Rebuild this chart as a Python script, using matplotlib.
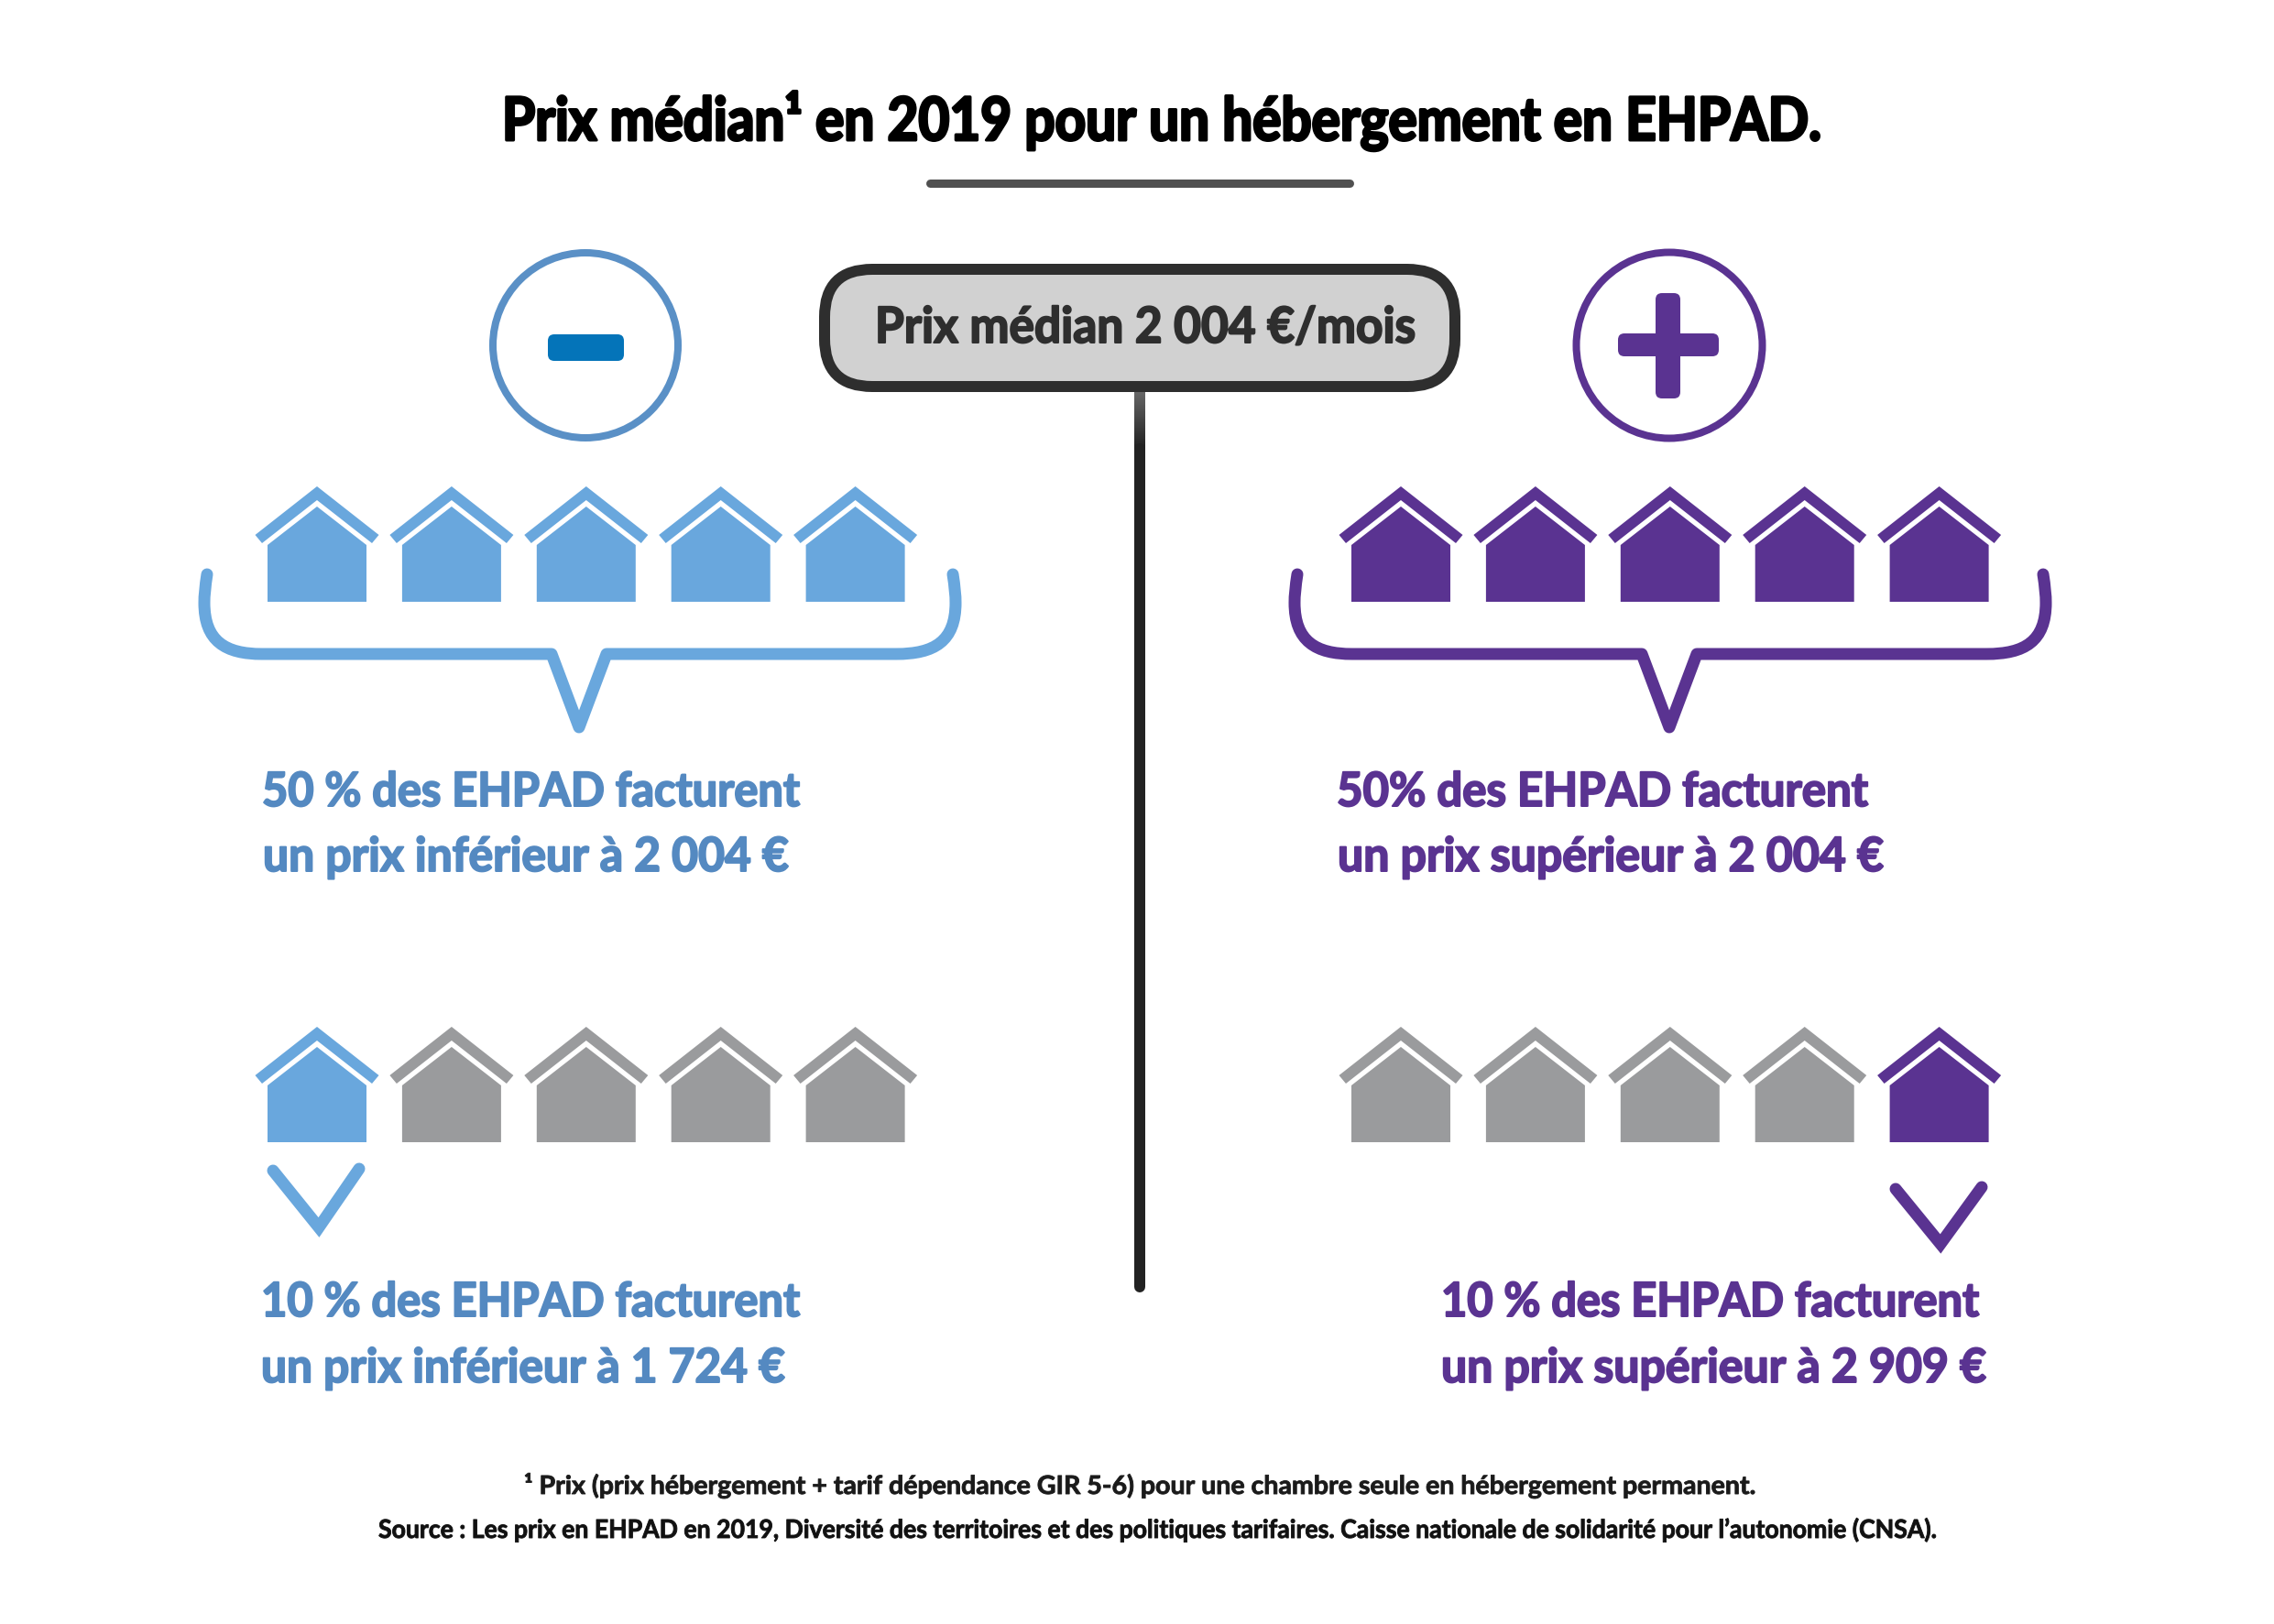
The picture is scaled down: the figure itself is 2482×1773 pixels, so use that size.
import matplotlib
matplotlib.use("Agg")
import matplotlib.pyplot as plt
from matplotlib.patches import Polygon, Circle, FancyBboxPatch, PathPatch
from matplotlib.patheffects import AbstractPathEffect
from matplotlib.path import Path
from matplotlib.transforms import Affine2D
import numpy as np

W, H = 2482, 1773
DPI = 100
FONT = ['Lato', 'Liberation Sans', 'DejaVu Sans']

BLUE = '#69A7DD'
BLUE_TXT = '#5489C1'
BLUE_RING = '#5A90C6'
BLUE_MINUS = '#0474B9'
PURPLE = '#5A3391'
GREY = '#9A9B9D'

title = "Prix médian¹ en 2019 pour un hébergement en EHPAD."
median_label = "Prix médian 2 004 €/mois"
top_left = ["50 % des EHPAD facturent", "un prix inférieur à 2 004 €"]
top_right = ["50% des EHPAD facturent", "un prix supérieur à 2 004 €"]
bot_left = ["10 % des EHPAD facturent", "un prix inférieur à 1 724 €"]
bot_right = ["10 % des EHPAD facturent", "un prix supérieur à 2 909 €"]
footnote = "¹ Prix (prix hébergement + tarif dépendance GIR 5-6) pour une chambre seule en hébergement permanent."
source = "Source : Les prix en EHPAD en 2019, Diversité des territoires et des politiques tarifaires. Caisse nationale de solidarité pour l’autonomie (CNSA)."

# which of the five houses are highlighted in each row
row_top_left = [1, 1, 1, 1, 1]
row_top_right = [1, 1, 1, 1, 1]
row_bot_left = [1, 0, 0, 0, 0]
row_bot_right = [0, 0, 0, 0, 1]

fig = plt.figure(figsize=(W / DPI, H / DPI), dpi=DPI)
ax = fig.add_axes([0, 0, 1, 1])
ax.set_xlim(0, W)
ax.set_ylim(H, 0)
ax.axis('off')
renderer = fig.canvas.get_renderer()


def pt(px):
    return px * 72 / DPI


class Condense(AbstractPathEffect):
    """Draw a text narrower around x0, with a small outline for the heavy weight."""

    def __init__(self, sx, x0, bold_px):
        super().__init__()
        self.sx, self.x0, self.bold_px = sx, x0, bold_px

    def draw_path(self, renderer, gc, tpath, affine, rgbFace=None):
        a = affine + Affine2D().translate(-self.x0, 0).scale(self.sx, 1).translate(self.x0, 0)
        gc0 = renderer.new_gc()
        gc0.copy_properties(gc)
        gc0.set_foreground(rgbFace)
        gc0.set_linewidth(pt(self.bold_px))
        gc0.set_joinstyle('round')
        renderer.draw_path(gc0, tpath, a, rgbFace)
        gc0.restore()


def label(x1, x2, y, s, color, size, bold_px=2.0, z=5):
    t = ax.text(x1, y, s, color=color, fontsize=size, family=FONT, weight='bold',
                ha='left', va='baseline', zorder=z)
    w = t.get_window_extent(renderer).width
    t.set_path_effects([Condense((x2 - x1) / w, x1, bold_px)])
    return t


def house(cx, top, color):
    body = [(cx - 54, top + 126), (cx + 54, top + 126), (cx + 54, top + 64),
            (cx, top + 22), (cx - 54, top + 64)]
    ax.add_patch(Polygon(body, closed=True, fc=color, ec='none'))
    roof = [(cx, top), (cx + 67.5, top + 53), (cx + 60, top + 62), (cx, top + 15),
            (cx - 60, top + 62), (cx - 67.5, top + 53)]
    ax.add_patch(Polygon(roof, closed=True, fc=color, ec='none'))


def row(x0, top, flags, color):
    for i, f in enumerate(flags):
        house(x0 + 146.9 * i, top, color if f else GREY)


def bracket(dx, color):
    v = [(226, 627), (224, 640), (223, 650), (223, 658),
         (223, 700), (246, 714), (286, 714),
         (602, 714), (632, 794), (662, 714), (978, 714),
         (1020, 714), (1043, 700), (1043, 658),
         (1043, 650), (1042, 640), (1040, 627)]
    v = [(a + dx, b) for a, b in v]
    c = [Path.MOVETO, Path.CURVE4, Path.CURVE4, Path.CURVE4,
         Path.CURVE4, Path.CURVE4, Path.CURVE4,
         Path.LINETO, Path.LINETO, Path.LINETO, Path.LINETO,
         Path.CURVE4, Path.CURVE4, Path.CURVE4,
         Path.CURVE4, Path.CURVE4, Path.CURVE4]
    ax.add_patch(PathPatch(Path(v, c), fc='none', ec=color, lw=pt(13),
                           capstyle='round', joinstyle='round'))


def chevron(pts, color):
    ax.plot(*zip(*pts), color=color, lw=pt(13), solid_capstyle='round',
            solid_joinstyle='miter')


# title
label(548, 1986, 153, title, 'black', 47, bold_px=3)
ax.plot([1015, 1473], [199.5, 199.5], color='#505050', lw=pt(9), solid_capstyle='round')

# central stem with its top gradient
shade = np.linspace(0.40, 0.13, 60)[:, None]
ax.imshow(shade, extent=[1238, 1250, 490, 428], cmap='gray', vmin=0, vmax=1, aspect='auto', zorder=1)
ax.plot([1244, 1244], [490, 1405], color='#222222', lw=pt(12), solid_capstyle='round', zorder=1)
ax.set_xlim(0, W)
ax.set_ylim(H, 0)

# median pill
ax.add_patch(FancyBboxPatch((900, 294), 688, 128, boxstyle='round,pad=0,rounding_size=52',
                            fc='#D1D1D1', ec='#2E2E2E', lw=pt(12), zorder=2))
label(955, 1544, 374, median_label, '#2E2E2E', 39, bold_px=2)

# minus / plus badges
ax.add_patch(Circle((639, 377), 101, fc='white', ec=BLUE_RING, lw=pt(8)))
ax.add_patch(FancyBboxPatch((598, 365), 83, 29, boxstyle='round,pad=0,rounding_size=7', fc=BLUE_MINUS, ec='none'))
ax.add_patch(Circle((1822, 377), 101.5, fc='white', ec=PURPLE, lw=pt(8)))
ax.add_patch(FancyBboxPatch((1766, 364), 110, 25, boxstyle='round,pad=0,rounding_size=7', fc=PURPLE, ec='none'))
ax.add_patch(FancyBboxPatch((1807, 320), 27, 115, boxstyle='round,pad=0,rounding_size=7', fc=PURPLE, ec='none'))

# house rows
row(346, 531, row_top_left, BLUE)
row(1529, 531, row_top_right, PURPLE)
row(346, 1121, row_bot_left, BLUE)
row(1529, 1121, row_bot_right, PURPLE)

bracket(0, BLUE)
bracket(1190, PURPLE)

chevron([(298, 1278), (348, 1340), (392, 1276)], BLUE)
chevron([(2069, 1298), (2118, 1358), (2163, 1296)], PURPLE)

label(286, 873, 880, top_left[0], BLUE_TXT, 37)
label(287, 861, 951, top_left[1], BLUE_TXT, 37)
label(1459, 2039, 880, top_right[0], PURPLE, 37)
label(1460, 2056, 951, top_right[1], PURPLE, 37)
label(285, 873, 1437, bot_left[0], BLUE_TXT, 37)
label(285, 857, 1509, bot_left[1], BLUE_TXT, 37)
label(1573, 2160, 1437, bot_right[0], PURPLE, 37)
label(1573, 2168, 1509, bot_right[1], PURPLE, 37)

label(572, 1917, 1631, footnote, '#1A1A1A', 20, bold_px=0.9)
label(413, 2116, 1679, source, '#111111', 20, bold_px=0.9)

fig.savefig('out.png', dpi=DPI, facecolor='white')
